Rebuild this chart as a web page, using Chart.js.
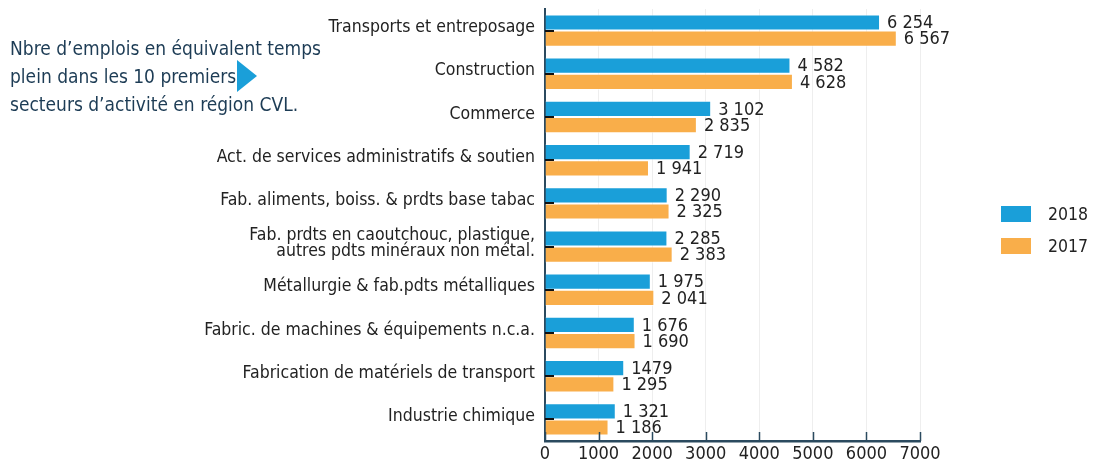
<!DOCTYPE html>
<html>
<head>
<meta charset="utf-8">
<script src="https://cdn.jsdelivr.net/npm/chart.js@4/dist/chart.umd.min.js"></script>
<style>
  html, body { margin: 0; padding: 0; background: #fff; }
  #wrap { position: relative; width: 1093px; height: 464px; font-family: "Liberation Sans Narrow", "DejaVu Sans Condensed", Roboto, sans-serif; }
  #titre { position: absolute; left: 10px; top: 34px; font-size: 19px; line-height: 28px; color: #1d3c55; }
  #fleche { position: absolute; left: 237px; top: 60px; width: 0; height: 0;
            border-top: 16px solid transparent; border-bottom: 16px solid transparent; border-left: 20px solid #1a9fd9; }
  .leg { position: absolute; left: 1001px; width: 30px; height: 16px; }
  .legtxt { position: absolute; left: 1048px; font-size: 17.5px; color: #222; line-height: 16px; }
</style>
</head>
<body>
<div id="wrap">
  <canvas id="graph" width="1093" height="464"></canvas>
  <div id="titre">Nbre d’emplois en équivalent temps<br>plein dans les 10 premiers<br>secteurs d’activité en région CVL.</div>
  <div id="fleche"></div>
  <div class="leg" style="top:206px;background:#1a9fd9"></div>
  <div class="legtxt" style="top:206px">2018</div>
  <div class="leg" style="top:238px;background:#f9ae4a"></div>
  <div class="legtxt" style="top:238px">2017</div>
</div>
<script>
const secteurs = [
    'Transports et entreposage',
    'Construction',
    'Commerce',
    'Act. de services administratifs & soutien',
    'Fab. aliments, boiss. & prdts base tabac',
    ['Fab. prdts en caoutchouc, plastique,', 'autres pdts minéraux non métal.'],
    'Métallurgie & fab.pdts métalliques',
    'Fabric. de machines & équipements n.c.a.',
    'Fabrication de matériels de transport',
    'Industrie chimique'
];
const valeurs2018 = [6254, 4582, 3102, 2719, 2290, 2285, 1975, 1676, 1479, 1321];
const valeurs2017 = [6567, 4628, 2835, 1941, 2325, 2383, 2041, 1690, 1295, 1186];
const etiquettes2018 = ['6 254', '4 582', '3 102', '2 719', '2 290', '2 285', '1 975', '1 676', '1479', '1 321'];
const etiquettes2017 = ['6 567', '4 628', '2 835', '1 941', '2 325', '2 383', '2 041', '1 690', '1 295', '1 186'];
const ticksX = [0, 1000, 2000, 3000, 4000, 5000, 6000, 7000];

const police = '"Liberation Sans Narrow", "DejaVu Sans Condensed", Roboto, sans-serif';

// Valeurs au bout des barres + petites graduations vers l'intérieur
const pluginEtiquettes = {
    id: 'etiquettes',
    afterDatasetsDraw(chart) {
        const ctx = chart.ctx;
        const listes = [etiquettes2018, etiquettes2017];
        ctx.save();
        ctx.font = '18px ' + police;
        ctx.fillStyle = '#222';
        ctx.textBaseline = 'middle';
        ctx.textAlign = 'left';
        chart.data.datasets.forEach((ds, i) => {
            chart.getDatasetMeta(i).data.forEach((bar, j) => {
                ctx.fillText(listes[i][j], bar.x + 7, bar.y + 1);
            });
        });

        const y = chart.scales.y;
        const x = chart.scales.x;
        ctx.strokeStyle = '#111';
        ctx.lineWidth = 2;
        y.ticks.forEach((t, i) => {
            const py = Math.round(y.getPixelForTick(i));
            ctx.beginPath();
            ctx.moveTo(x.left, py);
            ctx.lineTo(x.left + 9, py);
            ctx.stroke();
        });
        ctx.strokeStyle = '#2b4a5f';
        ctx.lineWidth = 1.5;
        x.ticks.forEach((t, i) => {
            const px = Math.round(x.getPixelForTick(i)) + 0.5;
            ctx.beginPath();
            ctx.moveTo(px, y.bottom);
            ctx.lineTo(px, y.bottom - 9);
            ctx.stroke();
        });
        ctx.restore();
    }
};

new Chart(document.getElementById('graph'), {
    type: 'bar',
    data: {
        labels: secteurs,
        datasets: [
            {
                label: '2018',
                data: valeurs2018,
                backgroundColor: '#1a9fd9',
                borderColor: 'rgba(255,255,255,0.6)',
                borderWidth: 1,
                categoryPercentage: 0.75,
                barPercentage: 1
            },
            {
                label: '2017',
                data: valeurs2017,
                backgroundColor: '#f9ae4a',
                borderColor: 'rgba(255,255,255,0.6)',
                borderWidth: 1,
                categoryPercentage: 0.75,
                barPercentage: 1
            }
        ]
    },
    options: {
        indexAxis: 'y',
        responsive: false,
        animation: false,
        layout: { padding: { top: 9, right: 173, left: 0, bottom: 0 } },
        plugins: {
            legend: { display: false },
            tooltip: { enabled: false }
        },
        scales: {
            x: {
                min: 0,
                max: 7000,
                afterBuildTicks: (s) => { s.ticks = ticksX.map(v => ({ value: v })); },
                afterFit: (s) => { s.height = 23; },
                grid: { color: '#eeeeee', lineWidth: 1, drawTicks: false },
                border: { color: '#2b4a5f', width: 2.5 },
                ticks: {
                    color: '#222',
                    font: { size: 18, family: police },
                    padding: 3,
                    maxRotation: 0,
                    callback: (v) => String(v)
                }
            },
            y: {
                afterFit: (s) => { s.width = 545; s.paddingTop = 0; s.paddingBottom = 0; },
                grid: { display: false, drawTicks: false },
                border: { color: '#2b4a5f', width: 2 },
                ticks: { color: '#222', font: { size: 17.5, family: police, lineHeight: 0.95 }, padding: 10, labelOffset: -3 }
            }
        }
    },
    plugins: [pluginEtiquettes]
});
</script>
</body>
</html>
